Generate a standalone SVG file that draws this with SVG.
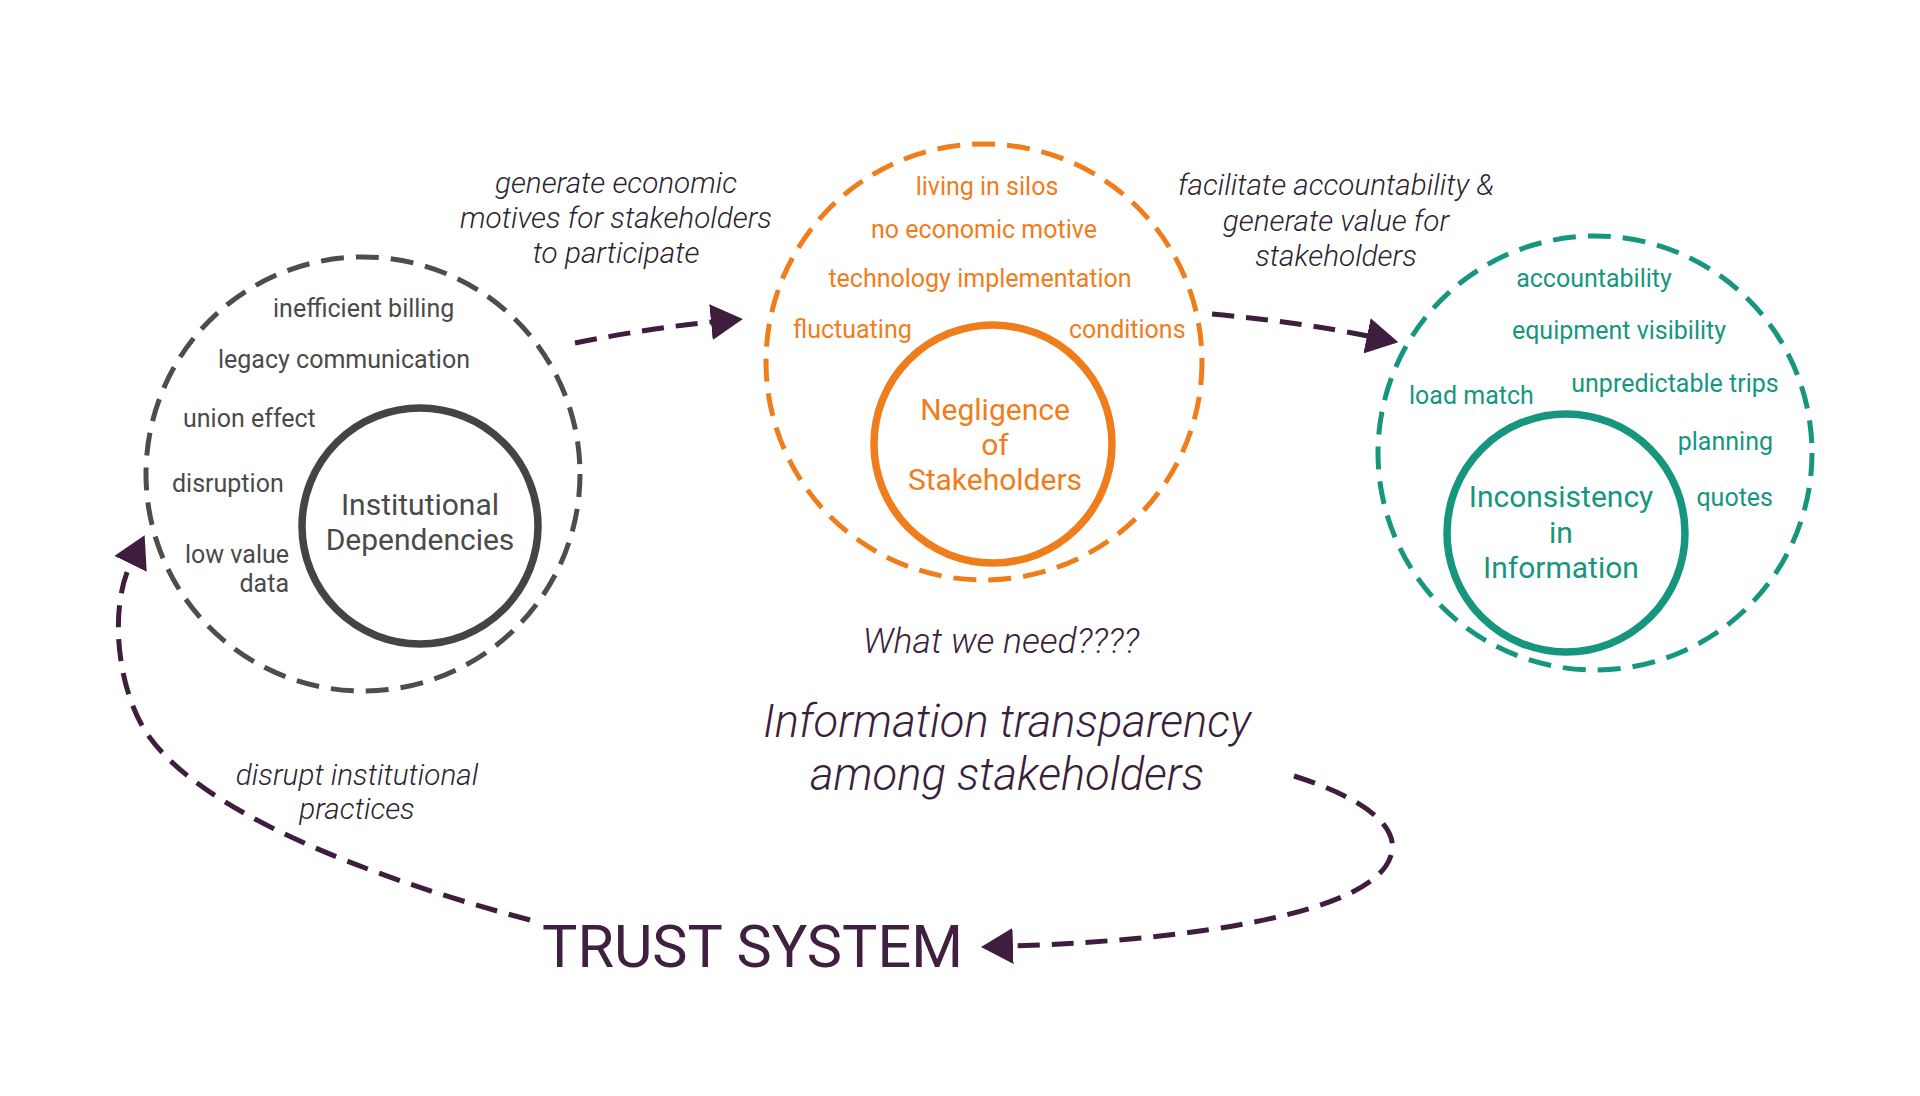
<svg xmlns="http://www.w3.org/2000/svg" width="1920" height="1096" viewBox="0 0 1920 1096">
<style>
text{font-family:Roboto,"Liberation Sans",sans-serif}
.outer{fill:none;stroke-width:5;stroke-dasharray:23 12}
.inner{fill:none;stroke-width:7.5}
.g{fill:#4a4a4a}.o{fill:#ef7d1b}.t{fill:#16967f}
.item{font-size:25px}
.core{font-size:30px}
.lbl{font-size:29.7px;font-style:italic;font-weight:300;fill:#2b2330}
.conn{fill:none;stroke:#3f1d3f;stroke-width:5;stroke-dasharray:22 12}
.mid{text-anchor:middle}.end{text-anchor:end}
</style>
<defs>
<marker id="ah" viewBox="0 0 32 36" refX="1" refY="18" markerWidth="32" markerHeight="36" markerUnits="userSpaceOnUse" orient="auto">
<path d="M0,0 L32,18 L0,36 z" fill="#3f1d3f"/>
</marker>
</defs>
<rect width="1920" height="1096" fill="#ffffff"/>

<g id="connectors">
<path class="conn" d="M575 343 Q650 328 712 322" marker-end="url(#ah)"/>
<path class="conn" d="M1212 314 Q1300 322 1368 336" marker-end="url(#ah)"/>
<path class="conn" d="M1294 776 C1370 800 1402 830 1390 858 C1370 912 1200 940 1012 946" marker-end="url(#ah)"/>
<path class="conn" d="M530 920 C360 875 200 810 148 735 C118 692 108 610 131 563" marker-end="url(#ah)"/>
</g>

<g id="institutional">
<circle class="outer" cx="363" cy="474" r="217" stroke="#4d4d4d"/>
<circle class="inner" cx="420" cy="526" r="118" stroke="#444444"/>
<text class="item g" x="273" y="317">inefficient billing</text>
<text class="item g" x="218" y="368">legacy communication</text>
<text class="item g" x="183" y="427">union effect</text>
<text class="item g" x="172" y="492">disruption</text>
<text class="item g end" x="289" y="563">low value</text>
<text class="item g end" x="289" y="592">data</text>
<text class="core g mid" x="420" y="515">Institutional</text>
<text class="core g mid" x="420" y="550">Dependencies</text>
</g>

<g id="negligence">
<circle class="outer" cx="984" cy="362" r="218" stroke="#ef7d1b"/>
<circle class="inner" cx="993" cy="444" r="119" stroke="#ef7d1b"/>
<text class="item o mid" x="987" y="195">living in silos</text>
<text class="item o mid" x="984" y="238">no economic motive</text>
<text class="item o mid" x="980" y="287">technology implementation</text>
<text class="item o" x="793" y="338">fluctuating</text>
<text class="item o" x="1069" y="338">conditions</text>
<text class="core o mid" x="995" y="420">Negligence</text>
<text class="core o mid" x="995" y="455">of</text>
<text class="core o mid" x="995" y="490">Stakeholders</text>
</g>

<g id="inconsistency">
<circle class="outer" cx="1595" cy="453" r="217" stroke="#16967f"/>
<circle class="inner" cx="1566" cy="533" r="119" stroke="#16967f"/>
<text class="item t mid" x="1594" y="287">accountability</text>
<text class="item t mid" x="1619" y="339">equipment visibility</text>
<text class="item t mid" x="1675" y="392">unpredictable trips</text>
<text class="item t" x="1409" y="404">load match</text>
<text class="item t end" x="1773" y="450">planning</text>
<text class="item t end" x="1773" y="506">quotes</text>
<text class="core t mid" x="1561" y="507">Inconsistency</text>
<text class="core t mid" x="1561" y="543">in</text>
<text class="core t mid" x="1561" y="578">Information</text>
</g>

<g id="label-motives">
<text class="lbl mid" x="616" y="193">generate economic</text>
<text class="lbl mid" x="616" y="228">motives for stakeholders</text>
<text class="lbl mid" x="616" y="263">to participate</text>
</g>
<g id="label-accountability">
<text class="lbl mid" x="1336" y="195">facilitate accountability &amp;</text>
<text class="lbl mid" x="1336" y="231">generate value for</text>
<text class="lbl mid" x="1336" y="266">stakeholders</text>
</g>
<g id="label-disrupt">
<text class="lbl mid" x="357" y="785">disrupt institutional</text>
<text class="lbl mid" x="357" y="819">practices</text>
</g>
<g id="need">
<text class="mid" x="1001" y="653" font-size="35.5" font-style="italic" font-weight="300" fill="#3b1f3c">What we need????</text>
<text class="mid" x="1007" y="737" font-size="45.4" font-style="italic" font-weight="300" fill="#3b1f3c">Information transparency</text>
<text class="mid" x="1007" y="790" font-size="45.4" font-style="italic" font-weight="300" fill="#3b1f3c">among stakeholders</text>
</g>
<g id="trust-system">
<text x="542" y="967" font-size="59.3" fill="#3f2040">TRUST SYSTEM</text>
</g>
</svg>
